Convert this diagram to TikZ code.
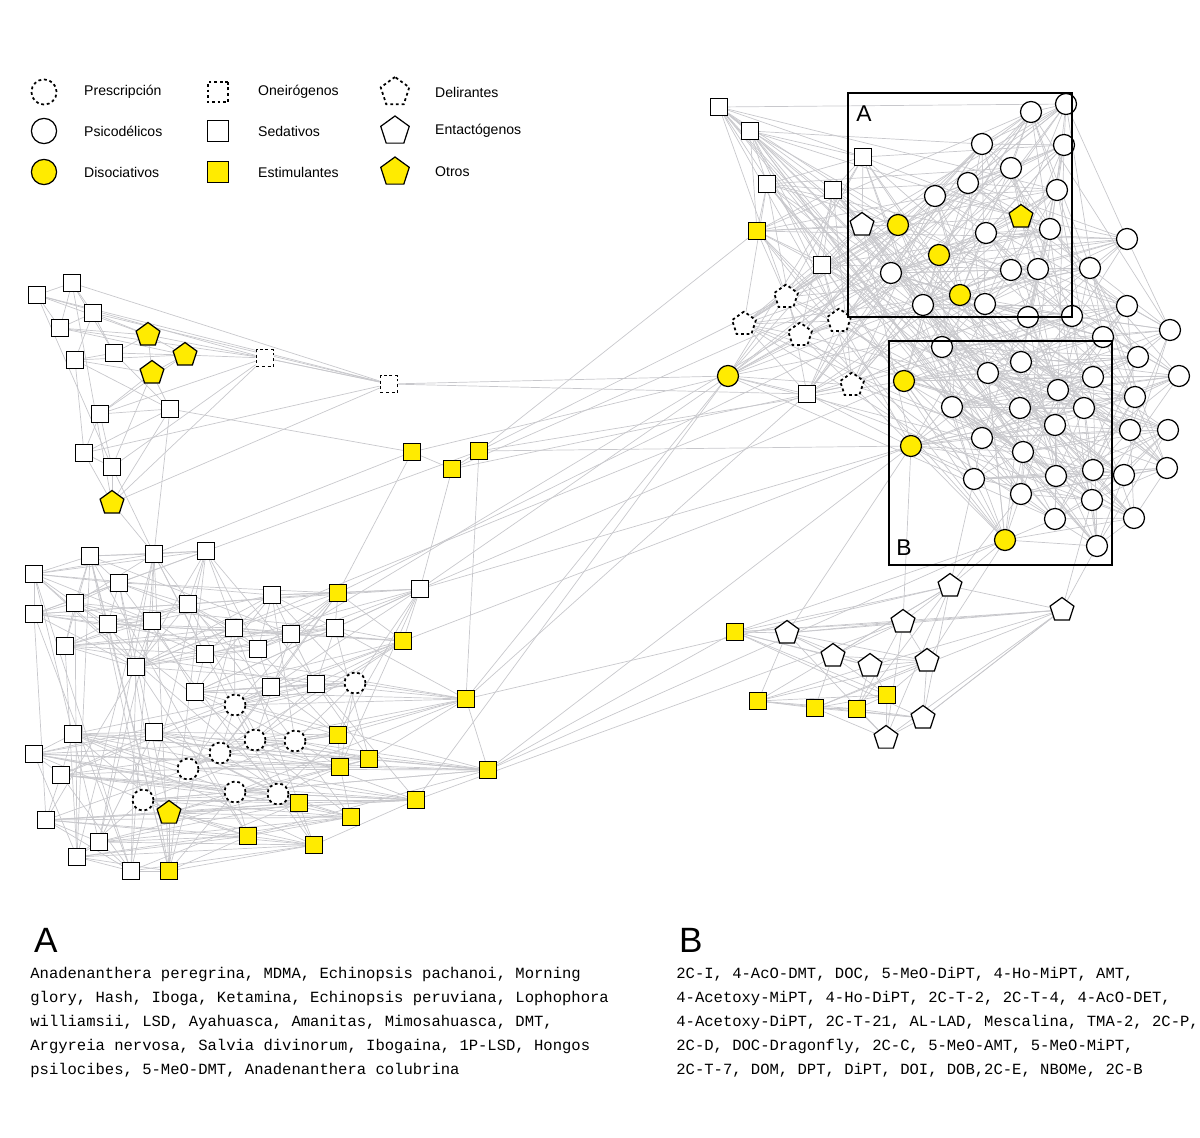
\documentclass[tikz,border=0pt]{standalone}
\usepackage{fontspec}
\setmainfont{Liberation Sans}
\setmonofont{Liberation Mono}
\usetikzlibrary{shapes.geometric,backgrounds}
\definecolor{amarillo}{HTML}{FFEB00}
\definecolor{arista}{HTML}{C8C8CC}
\tikzset{
  base/.style={draw=black, line width=0.7pt, fill=white, inner sep=0pt},
  punteado/.style={line width=1pt, dash pattern=on 1.6pt off 1.6pt},
  presc/.style={base, circle, punteado, minimum size=0.42cm},
  psico/.style={base, circle, minimum size=0.42cm},
  disoc/.style={base, circle, fill=amarillo, minimum size=0.42cm},
  oneiro/.style={base, rectangle, punteado, minimum size=0.34cm},
  seda/.style={base, rectangle, minimum size=0.34cm},
  estim/.style={base, rectangle, fill=amarillo, minimum size=0.34cm},
  delir/.style={base, regular polygon, regular polygon sides=5, punteado, minimum size=0.5cm},
  entac/.style={base, regular polygon, regular polygon sides=5, minimum size=0.5cm},
  otros/.style={base, regular polygon, regular polygon sides=5, fill=amarillo, minimum size=0.5cm},
  grande/.style={scale=1.2},
  rotulo/.style={anchor=west, font=\fontsize{8}{9}\selectfont},
  arista/.style={draw=arista, line width=0.4pt},
  caja/.style={draw=black, line width=0.8pt},
  lista/.style={anchor=north west, align=left, inner sep=0pt,
    font=\ttfamily\fontsize{8.85}{13.7}\selectfont}
}
\begin{document}
\begin{tikzpicture}[x=0.02cm, y=-0.02cm]
\useasboundingbox (0,0) rectangle (1200,1138);

% leyenda
\foreach \t/\x/\y/\txt [count=\i] in {
  presc/44/92/Prescripción, psico/44/131/Psicodélicos, disoc/44/172/Disociativos,
  oneiro/218/92/Oneirógenos, seda/218/131/Sedativos, estim/218/172/Estimulantes,
  delir/395/92/Delirantes, entac/395/131/Entactógenos, otros/395/172/Otros}
{
  \node[\t, grande] (ley\i) at (\x,\y) {};
  \node[rotulo] (txt\i) at (\x+34,\y) {\txt};
}

% grupo arriba a la izquierda
\foreach \t/\x/\y [count=\i] in {
  seda/37/295, seda/72/283, seda/60/328, seda/93/313, otros/148/335,
  seda/114/353, otros/185/355, seda/75/360, otros/152/373, seda/170/409,
  seda/100/414, seda/84/453, seda/112/467, otros/112/503,
  oneiro/265/358, oneiro/389/384}
  \node[\t] (l\i) at (\x,\y) {};

% estimulantes del centro
\foreach \x/\y [count=\i] in {412/452, 452/469, 479/451}
  \node[estim] (m\i) at (\x,\y) {};

% grupo abajo a la izquierda
\foreach \t/\x/\y [count=\i] in {
  seda/154/554, seda/206/551, seda/90/556, seda/34/574, seda/119/583,
  seda/75/603, seda/34/614, seda/108/624, seda/152/621, seda/188/604,
  seda/65/646, seda/136/667, seda/234/628, seda/205/654, seda/258/649,
  seda/291/634, seda/272/595, estim/338/593, seda/335/628, seda/420/589,
  estim/403/641, seda/195/692, seda/271/687, seda/316/684, presc/355/683,
  presc/235/705, estim/466/699, estim/338/735, presc/255/740, presc/295/741,
  presc/220/753, estim/369/759, estim/340/767, presc/188/769, estim/488/770,
  seda/154/732, seda/73/734, seda/34/754, seda/61/775, presc/235/792,
  presc/278/794, estim/416/800, presc/143/800, estim/299/803, otros/169/813,
  estim/351/817, seda/46/820, estim/248/836, seda/99/842, estim/314/845,
  seda/77/857, seda/131/871, estim/169/871}
  \node[\t] (b\i) at (\x,\y) {};

% grupo arriba a la derecha
\foreach \t/\x/\y [count=\i] in {
  seda/719/107, seda/750/131, seda/863/157, seda/767/184, seda/833/190,
  estim/757/231, entac/862/225, disoc/898/225, seda/822/265, delir/786/297,
  delir/744/324, delir/800/335, delir/839/321, disoc/728/376, seda/807/394,
  delir/852/385, psico/1031/112, psico/1066/104, psico/982/144, psico/1064/145,
  psico/1011/168, psico/968/183, psico/935/196, psico/1057/190, otros/1021/217,
  psico/1050/229, psico/986/233, disoc/939/255, psico/1127/239, psico/891/273,
  psico/1011/270, psico/1038/269, psico/1090/268, disoc/960/295, psico/923/305,
  psico/985/304, psico/1028/317, psico/1072/316, psico/1127/306, psico/1170/330,
  psico/1103/337, psico/942/347, psico/1021/362, psico/1138/357, disoc/904/381,
  psico/988/373, psico/1093/377, psico/1058/390, psico/1179/376, psico/1135/397,
  psico/952/407, psico/1020/408, psico/1084/408, disoc/911/446, psico/982/438,
  psico/1055/425, psico/1130/430, psico/1023/452, psico/1168/430, psico/1056/476,
  psico/1093/470, psico/974/479, psico/1124/475, psico/1167/468, psico/1021/494,
  psico/1092/500, psico/1055/519, psico/1134/518, disoc/1005/540, psico/1097/546}
  \node[\t] (r\i) at (\x,\y) {};

% grupo abajo a la derecha
\foreach \t/\x/\y [count=\i] in {
  entac/950/586, entac/1062/610, entac/903/622, estim/735/632, entac/787/633,
  entac/833/656, entac/870/666, entac/927/661, estim/887/695, estim/758/701,
  estim/815/708, estim/857/709, entac/923/718, entac/886/738}
  \node[\t] (e\i) at (\x,\y) {};

% recuadros A y B
\draw[caja] (848,93) rectangle (1072,317);
\draw[caja] (889,341) rectangle (1112,565);
\node[font=\fontsize{13}{13}\selectfont] (letraA) at (864,114) {A};
\node[font=\fontsize{13}{13}\selectfont] (letraB) at (904,548) {B};

% aristas
\begin{scope}[on background layer]
  \foreach \i in {1,...,16}
    \foreach \k in {1,2,4} {
      \pgfmathtruncatemacro\j{mod(\i+\k-1,16)+1}
      \draw[arista] (l\i) -- (l\j);
    }
  \foreach \i in {1,...,53}
    \foreach \k in {1,2,3,5,8,13} {
      \pgfmathtruncatemacro\j{mod(\i+\k-1,53)+1}
      \draw[arista] (b\i) -- (b\j);
    }
  \foreach \i in {1,...,70}
    \foreach \k in {1,2,4,7,11,17,23} {
      \pgfmathtruncatemacro\j{mod(\i+\k-1,70)+1}
      \draw[arista] (r\i) -- (r\j);
    }
  \foreach \i in {1,...,14}
    \foreach \k in {1,2,3,5} {
      \pgfmathtruncatemacro\j{mod(\i+\k-1,14)+1}
      \draw[arista] (e\i) -- (e\j);
    }
  \foreach \a/\b in {l5/l15, l7/l15, l15/l16, l16/r14, l16/r15, l10/m1, l13/b1,
    l14/b1, l10/b1, m1/m2, m2/m3, m1/b18, m2/b20, m3/b27, m1/r14, m2/r16,
    m3/r10, m3/r6, m3/r45, m3/r54, m2/r28, b20/r14, b20/r54, b27/r14, b35/r54,
    b35/e4, b42/e3, b27/e1, b35/r69, b1/m1, b2/m3, b20/r45, b42/r14, b12/r15,
    e1/r69, e2/r70, e1/r62, e2/r66, e3/r54, e4/r69, e5/r54, e8/r69, e13/e2,
    e1/r65, r15/b27, b16/r30, b18/r35, b21/r54}
    \draw[arista] (\a) -- (\b);
\end{scope}

% listas
\node[anchor=west, font=\fontsize{20}{20}\selectfont] (tituloA) at (28,940) {A};
\node[lista] (textoA) at (30,967) {Anadenanthera peregrina, MDMA, Echinopsis pachanoi, Morning\\
glory, Hash, Iboga, Ketamina, Echinopsis peruviana, Lophophora\\
williamsii, LSD, Ayahuasca, Amanitas, Mimosahuasca, DMT,\\
Argyreia nervosa, Salvia divinorum, Ibogaina, 1P-LSD, Hongos\\
psilocibes, 5-MeO-DMT, Anadenanthera colubrina};
\node[anchor=west, font=\fontsize{20}{20}\selectfont] (tituloB) at (673,940) {B};
\node[lista] (textoB) at (676,967) {2C-I, 4-AcO-DMT, DOC, 5-MeO-DiPT, 4-Ho-MiPT, AMT,\\
4-Acetoxy-MiPT, 4-Ho-DiPT, 2C-T-2, 2C-T-4, 4-AcO-DET,\\
4-Acetoxy-DiPT, 2C-T-21, AL-LAD, Mescalina, TMA-2, 2C-P,\\
2C-D, DOC-Dragonfly, 2C-C, 5-MeO-AMT, 5-MeO-MiPT,\\
2C-T-7, DOM, DPT, DiPT, DOI, DOB,2C-E, NBOMe, 2C-B};
\end{tikzpicture}
\end{document}
